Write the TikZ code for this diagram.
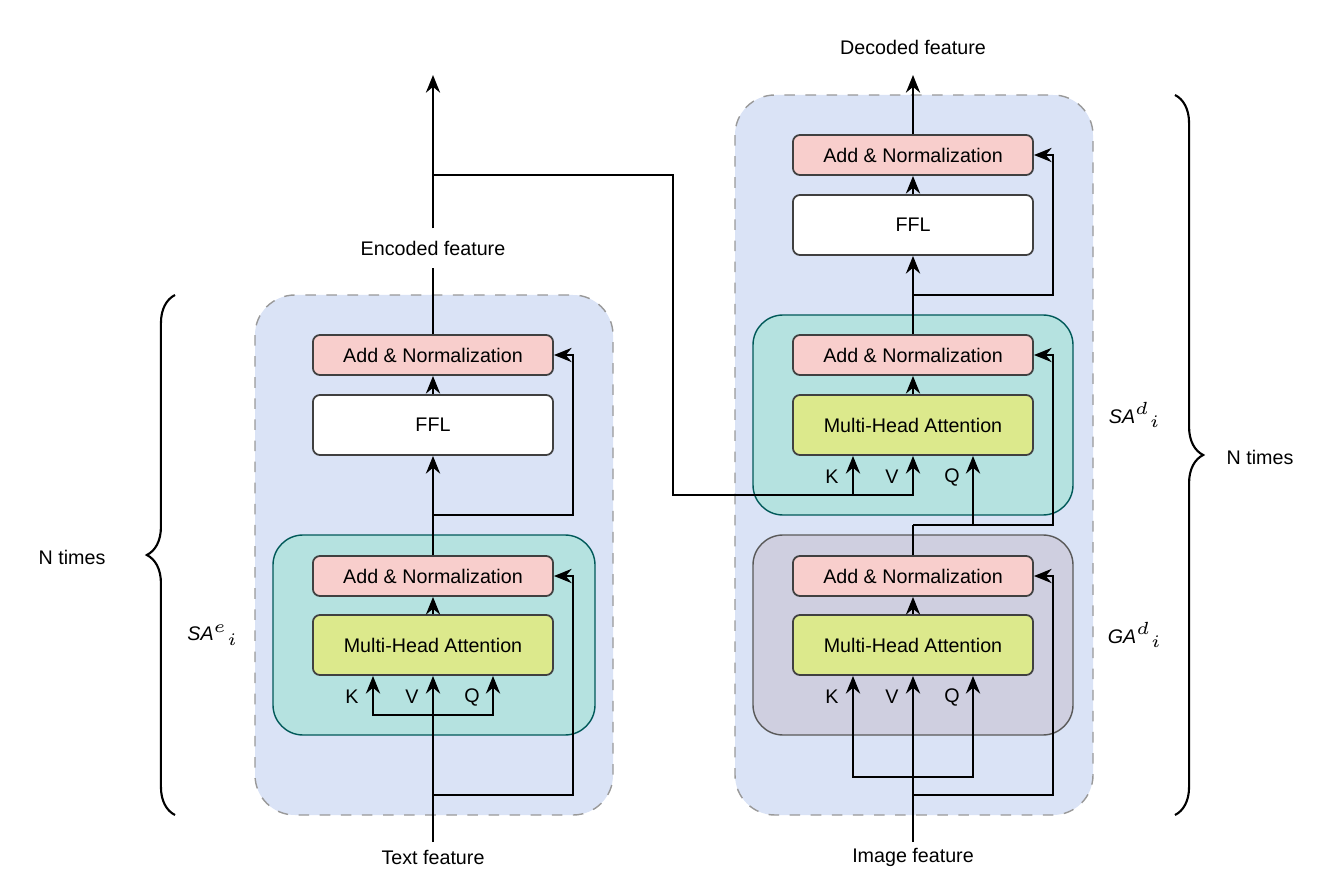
\documentclass[tikz,border=0pt]{standalone}
\usepackage{fontspec}
\setmainfont{Liberation Sans}
\usetikzlibrary{positioning, arrows.meta, decorations.pathreplacing}
\definecolor{outerfill}{HTML}{DAE3F6}
\definecolor{tealfill}{HTML}{B5E2E0}
\definecolor{grayfill}{HTML}{CFCFE0}
\definecolor{pinkfill}{HTML}{F8CECC}
\definecolor{limefill}{HTML}{DCE98C}
\tikzset{
  blk/.style={draw=black!75, rounded corners=2pt, minimum width=2.4cm, line width=0.5pt},
  addn/.style={blk, fill=pinkfill, minimum height=0.4cm},
  ffl/.style={blk, fill=white, minimum height=0.6cm},
  mha/.style={blk, fill=limefill, minimum height=0.6cm},
  arr/.style={-{Stealth[length=5pt,width=4pt]}, line width=0.8pt},
  ln/.style={line width=0.8pt},
  lbl/.style={inner sep=0pt},
}
\begin{document}
\begin{tikzpicture}[x=0.01cm, y=-0.01cm, font=\fontsize{5.6}{7}\selectfont]
\useasboundingbox (0,0) rectangle (1336,882);
% containers
\draw[dashed, draw=gray!80, fill=outerfill, rounded corners=0.4cm] (255,295) rectangle (613,815);
\draw[dashed, draw=gray!80, fill=outerfill, rounded corners=0.4cm] (735,95) rectangle (1093,815);
\draw[draw=teal!70!black, fill=tealfill, rounded corners=0.3cm] (273,535) rectangle (595,735);
\draw[draw=teal!70!black, fill=tealfill, rounded corners=0.3cm] (753,315) rectangle (1073,515);
\draw[draw=gray!70!black, fill=grayfill, rounded corners=0.3cm] (753,535) rectangle (1073,735);

% encoder
\node[addn] (ean2) at (433,355) {Add \& Normalization};
\node[ffl]  (effl) at (433,425) {FFL};
\node[addn] (ean1) at (433,576) {Add \& Normalization};
\node[mha]  (emha) at (433,645) {Multi-Head Attention};
\node[lbl] (ek) at (352,697) {K};
\node[lbl] (ev) at (412,697) {V};
\node[lbl] (eq) at (472,697) {Q};
\node (text) at (433,857) {Text feature};
\node (enc) at (433,248) {Encoded feature};

% decoder
\node[addn] (dan3) at (913,155) {Add \& Normalization};
\node[ffl]  (dffl) at (913,225) {FFL};
\node[addn] (dan2) at (913,355) {Add \& Normalization};
\node[mha]  (dmha2) at (913,425) {Multi-Head Attention};
\node[addn] (dan1) at (913,576) {Add \& Normalization};
\node[mha]  (dmha1) at (913,645) {Multi-Head Attention};
\node[lbl] (dk2) at (832,477) {K};
\node[lbl] (dv2) at (892,477) {V};
\node[lbl] (dq2) at (952,477) {Q};
\node[lbl] (dk1) at (832,697) {K};
\node[lbl] (dv1) at (892,697) {V};
\node[lbl] (dq1) at (952,697) {Q};
\node (img) at (913,857) {Image feature};
\node (dec) at (913,47) {Decoded feature};

% side labels
\node (sae) at (213,635) {\itshape SA$^{e}$$_{i}$};
\node (sad) at (1135,415) {\itshape SA$^{d}$$_{i}$};
\node (gad) at (1135,635) {\itshape GA$^{d}$$_{i}$};
\node (nl) at (72,557) {N times};
\node (nr) at (1260,457) {N times};
\draw[ln, line width=0.6pt, decorate, decoration={brace, amplitude=8pt}] (175,815) -- (175,295);
\draw[ln, line width=0.6pt, decorate, decoration={brace, amplitude=8pt}] (1175,95) -- (1175,815);

% encoder wiring
\coordinate (e0) at (433,842);
\draw[arr] (e0) -- (emha.south);
\draw[arr] (433,715) -| (emha.south -| 373,0);
\draw[arr] (433,715) -| (emha.south -| 493,0);
\draw[arr] (433,795) -| (573,576) -- (ean1.east);
\draw[arr] (emha) -- (ean1);
\draw[arr] (ean1) -- (effl);
\draw[arr] (433,515) -| (573,355) -- (ean2.east);
\draw[arr] (effl) -- (ean2);
\draw[ln] (ean2) -- (enc);
\coordinate (etop) at (433,75);
\draw[arr] (enc) -- (etop);
\draw[arr] (433,175) -| (673,495) -| (dmha2.south -| 853,0);
\draw[arr] (853,495) -| (dmha2.south -| 913,0);

% decoder wiring
\coordinate (d0) at (913,842);
\draw[arr] (d0) -- (dmha1.south);
\draw[arr] (913,777) -| (dmha1.south -| 853,0);
\draw[arr] (913,777) -| (dmha1.south -| 973,0);
\draw[arr] (913,795) -| (1053,576) -- (dan1.east);
\draw[arr] (dmha1) -- (dan1);
\draw[ln] (dan1) -- (913,525);
\draw[arr] (913,525) -| (dmha2.south -| 973,0);
\draw[arr] (973,525) -| (1053,355) -- (dan2.east);
\draw[arr] (dmha2) -- (dan2);
\draw[arr] (dan2) -- (dffl);
\draw[arr] (913,295) -| (1053,155) -- (dan3.east);
\draw[arr] (dffl) -- (dan3);
\coordinate (dtop) at (913,75);
\draw[arr] (dan3) -- (dtop);
\end{tikzpicture}
\end{document}
